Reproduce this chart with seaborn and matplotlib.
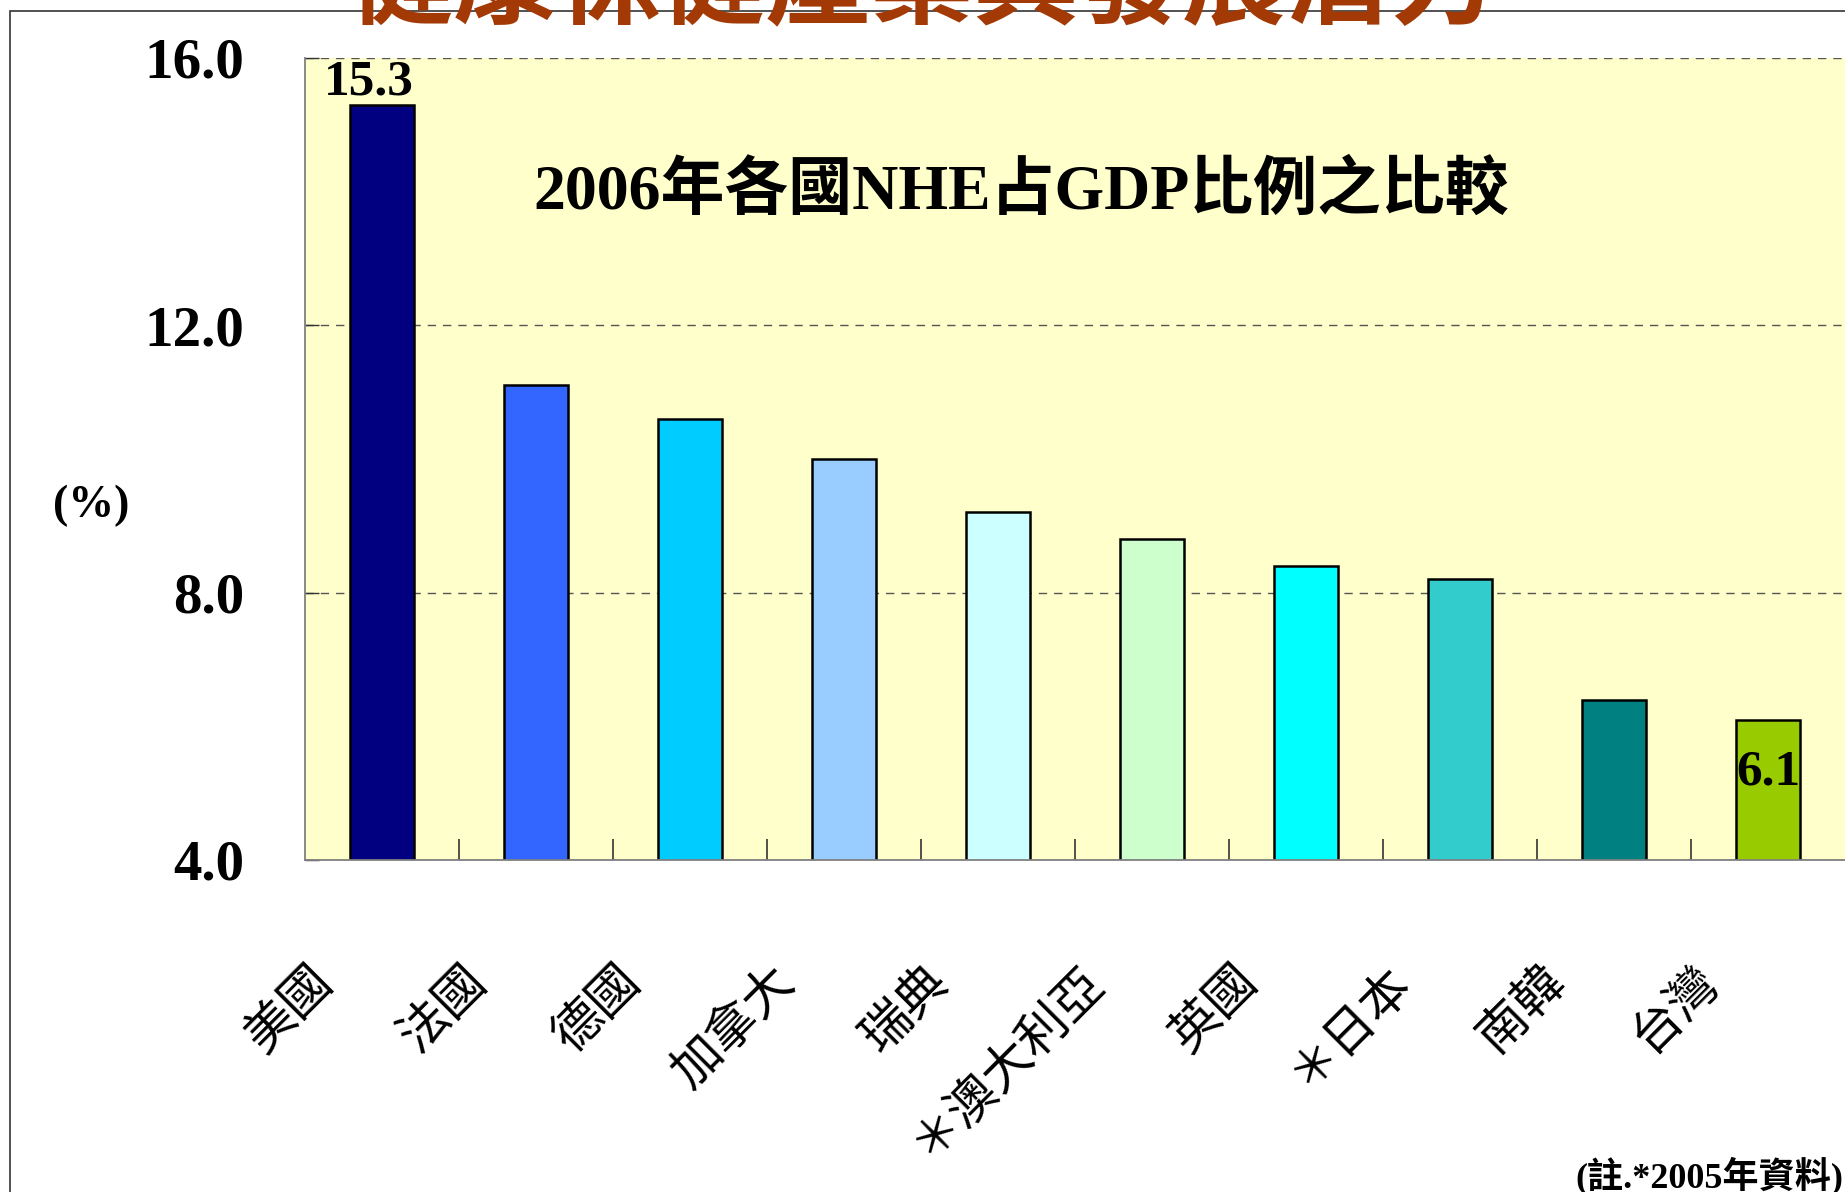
import matplotlib
matplotlib.use("Agg")
import matplotlib.pyplot as plt
import matplotlib.transforms as mtransforms
from matplotlib.patches import Rectangle
import seaborn as sns
import pandas as pd

# data
countries = ['美國', '法國', '德國', '加拿大', '瑞典', '＊澳大利亞', '英國', '＊日本', '南韓', '台灣']
nhe_share = [15.3, 11.1, 10.6, 10.0, 9.2, 8.8, 8.4, 8.2, 6.4, 6.1]
bar_colors = ['#000080', '#3366FF', '#00CCFF', '#99CCFF', '#CCFFFF',
              '#CCFFCC', '#00FFFF', '#33CCCC', '#008080', '#99CC00']
y_ticks = [4.0, 8.0, 12.0, 16.0]
y_tick_labels = ['4.0', '8.0', '12.0', '16.0']

sns.set_style('white')
plt.rcParams['font.family'] = ['Liberation Serif', 'Noto Sans CJK TC', 'DejaVu Sans']
plt.rcParams['text.color'] = 'black'
plt.rcParams['xtick.labelcolor'] = 'black'
plt.rcParams['ytick.labelcolor'] = 'black'

df = pd.DataFrame({'country': countries, 'share': nhe_share})

W, H = 1845, 1192
fig = plt.figure(figsize=(W / 100, H / 100), dpi=100)
ax = fig.add_axes([305 / W, 1 - 860 / H, 1 - 305 / W, (860 - 58) / H])
ax.set_facecolor('#FFFFCC')

sns.barplot(data=df, x='country', y='share', hue='country', palette=bar_colors,
            legend=False, width=0.42, edgecolor='black', linewidth=1.8,
            saturation=1, ax=ax)

ax.set_ylim(4, 16)
ax.set_xlim(-0.5, len(countries) - 0.5)
ax.set_xlabel('')
ax.set_ylabel('')

# grid + spines
ax.yaxis.grid(True, color='#555555', linestyle=(0, (6, 5)), linewidth=1.0)
ax.set_axisbelow(True)
for s in ['top', 'right']:
    ax.spines[s].set_visible(False)
for s in ['left', 'bottom']:
    ax.spines[s].set_color('#808080')
    ax.spines[s].set_linewidth(1.3)

# y ticks
ax.set_yticks(y_ticks, y_tick_labels)
ax.tick_params(axis='y', direction='in', length=10, width=1, color='#333333',
               labelcolor='black', pad=44, labelsize=41, left=True)
for lab in ax.get_yticklabels():
    lab.set_fontweight('bold')

# x ticks: labels at centers, small inward ticks between categories
ax.set_xticks(range(len(countries)), countries)
ax.set_xticks([i + 0.5 for i in range(len(countries) - 1)], minor=True)
ax.tick_params(axis='x', which='major', length=0, pad=82, labelsize=36,
               labelcolor='black')
ax.tick_params(axis='x', which='minor', direction='in', length=15, width=1.2,
               color='#333333', bottom=True)
shift = mtransforms.ScaledTranslation(-0.57, 0, fig.dpi_scale_trans)
for lab in ax.get_xticklabels():
    lab.set_rotation(45)
    lab.set_ha('right')
    lab.set_va('center')
    lab.set_rotation_mode('anchor')
    lab.set_family(['Noto Sans CJK TC'])
    lab.set_transform(lab.get_transform() + shift)

# value labels
ax.text(0 - 0.085, nhe_share[0] + 0.15, f'{nhe_share[0]:.1f}', ha='center',
        va='baseline', fontsize=37, fontweight='bold', color='black')
ax.text(len(countries) - 1, nhe_share[-1] - 0.97, f'{nhe_share[-1]:.1f}',
        ha='center', va='baseline', fontsize=37, fontweight='bold', color='black')

# chart title inside plot
ax.text(0.465, 0.833, '2006年各國NHE占GDP比例之比較', transform=ax.transAxes,
        ha='center', va='center', fontsize=46, fontweight='bold', color='black')

# slide frame and cut-off slide title
fig.patches.append(Rectangle((10 / W, -0.05), 1.2, 1 - 10.7 / H + 0.05,
                             transform=fig.transFigure, fill=False,
                             edgecolor='#333333', linewidth=1.2))
fig.text(0.5, 0.986, '健康保健產業具發展潛力', ha='center', va='baseline',
         fontsize=75, fontweight='bold', color='#A33A06',
         family=['Noto Sans CJK TC'], zorder=5)

fig.text(91 / W, 1 - 506 / H, '(%)', ha='center', va='center',
         fontsize=33, fontweight='bold', color='black')
fig.text(1843 / W, 1 - 1187 / H, '(註.*2005年資料)', ha='right', va='baseline',
         fontsize=26, fontweight='bold', color='black')

fig.savefig('out.png', dpi=100)
